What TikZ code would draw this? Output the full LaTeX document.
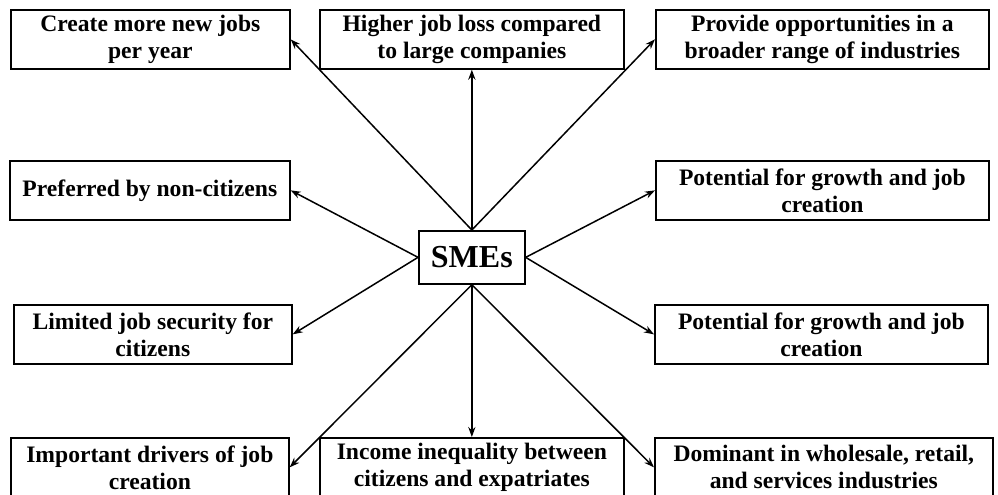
\documentclass[tikz,border=0pt]{standalone}
\usepackage{fontspec}
\setmainfont{Liberation Serif}
\usetikzlibrary{arrows.meta}

\begin{document}
\begin{tikzpicture}[
    x=0.5pt,
    y=-0.5pt,
    box/.style={
        inner sep=0pt,
        rectangle,
        draw,
        line width=0.85pt,
        align=center,
        minimum height=29.5pt,
        anchor=north west,
    },
    every node/.style={
        font=\fontsize{11.8}{13.5}\selectfont\bfseries,
    },
    link/.style={
        -{Stealth[length=5pt,width=3.6pt]},
        line width=0.75pt,
    },
]
    \clip (0,0) rectangle (998,494);

    % hub in the middle
    \node[box,minimum width=53pt,minimum height=26.5pt,font=\fontsize{16}{18}\selectfont\bfseries]
        (smes) at (418,230) {SMEs};

    % top row
    \node[box,minimum width=139.5pt] (create) at (10,9) {Create more new jobs\\per year};
    \node[box,minimum width=152pt] (higher) at (319,9) {Higher job loss compared\\to large companies};
    \node[box,minimum width=166.5pt] (provide) at (655,9) {Provide opportunities in a\\broader range of industries};

    % middle rows
    \node[box,minimum width=140pt] (preferred) at (9,160) {Preferred by non-citizens};
    \node[box,minimum width=166.5pt] (growthA) at (655,160) {Potential for growth and job\\creation};
    \node[box,minimum width=139pt] (limited) at (13,304) {Limited job security for\\citizens};
    \node[box,minimum width=166.5pt] (growthB) at (654,304) {Potential for growth and job\\creation};

    % bottom row, runs off the page
    \node[box,minimum width=139pt] (drivers) at (10,437) {Important drivers of job\\creation};
    \node[box,minimum width=152pt] (income) at (319,437) {Income inequality between\\citizens and expatriates};
    \node[box,minimum width=169pt] (dominant) at (654,437) {Dominant in wholesale, retail,\\and services industries};

    \foreach \from/\to in {north/create.east,north/higher.south,north/provide.west,
                           west/preferred.east,east/growthA.west,
                           west/limited.east,east/growthB.west,
                           south/drivers.east,south/income.north,south/dominant.west} {
        \draw[link] (smes.\from) -- (\to);
    }
\end{tikzpicture}
\end{document}
